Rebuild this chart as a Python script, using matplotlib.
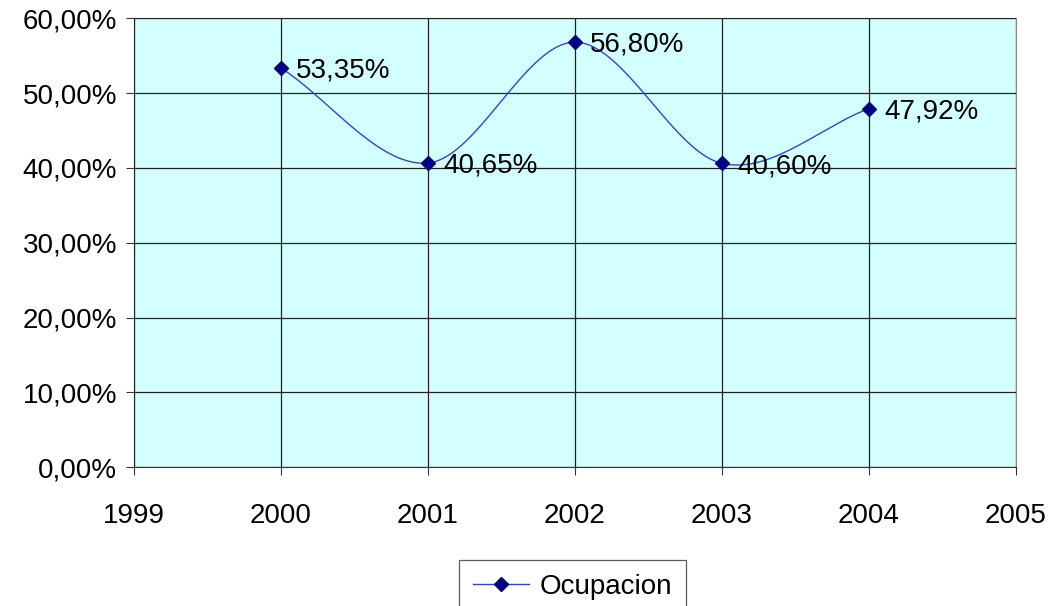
import matplotlib
matplotlib.use("Agg")
import matplotlib.pyplot as plt
import numpy as np

years = [2000, 2001, 2002, 2003, 2004]
ocupacion = [0.5335, 0.4065, 0.5680, 0.4060, 0.4792]
labels = ["53,35%", "40,65%", "56,80%", "40,60%", "47,92%"]
yticks = [0.0, 0.1, 0.2, 0.3, 0.4, 0.5, 0.6]
ytick_labels = ["0,00%", "10,00%", "20,00%", "30,00%", "40,00%", "50,00%", "60,00%"]
xticks = [1999, 2000, 2001, 2002, 2003, 2004, 2005]

plt.rcParams["font.family"] = ["Liberation Sans", "DejaVu Sans"]
FS = 20


def smooth(x, y, n=40):
    # Catmull-Rom curve through the points, like Excel's smoothed line
    x = np.asarray(x, float); y = np.asarray(y, float)
    px = np.concatenate([[2 * x[0] - x[1]], x, [2 * x[-1] - x[-2]]])
    py = np.concatenate([[2 * y[0] - y[1]], y, [2 * y[-1] - y[-2]]])
    xs, ys = [], []
    t = np.linspace(0, 1, n)
    for i in range(1, len(px) - 2):
        for p, out in ((px, xs), (py, ys)):
            p0, p1, p2, p3 = p[i - 1], p[i], p[i + 1], p[i + 2]
            out.append(0.5 * (2 * p1 + (-p0 + p2) * t
                              + (2 * p0 - 5 * p1 + 4 * p2 - p3) * t ** 2
                              + (-p0 + 3 * p1 - 3 * p2 + p3) * t ** 3))
    return np.concatenate(xs), np.concatenate(ys)


fig = plt.figure(figsize=(10.55, 6.06), dpi=100)
ax = fig.add_axes([0.127, 0.229, 0.836, 0.741])
ax.set_facecolor("#D4FFFF")

sx, sy = smooth(years, ocupacion)
ax.plot(sx, sy, color="#3344CC", lw=1, zorder=3)
ax.plot(years, ocupacion, ls="none", marker="D", ms=7, color="#000080", zorder=4)
ax.plot([], [], color="#3344CC", lw=1, marker="D", ms=7, mfc="#000080",
        mec="#000080", label="Ocupacion")

for x, y, s in zip(years, ocupacion, labels):
    ax.annotate(s, (x, y), xytext=(11, -2), textcoords="offset points",
                ha="left", va="center", fontsize=FS)

ax.set_xlim(1999, 2005)
ax.set_ylim(0, 0.6)
ax.set_xticks(xticks)
ax.set_xticklabels([str(v) for v in xticks], fontsize=FS)
ax.set_yticks(yticks)
ax.set_yticklabels(ytick_labels, fontsize=FS)
ax.tick_params(axis="x", length=6, pad=20, color="#333333")
ax.tick_params(axis="y", length=6, pad=6, color="#333333")
ax.grid(True, color="#222222", lw=0.9)
ax.set_axisbelow(False)
for side in ("left", "bottom"):
    ax.spines[side].set_color("#333333")
for side in ("top", "right"):
    ax.spines[side].set_color("#888888")

leg = fig.legend(loc="upper center", bbox_to_anchor=(0.543, 0.076), fontsize=FS,
                 frameon=True, fancybox=False, edgecolor="#333333",
                 handlelength=2.0, handletextpad=0.4, borderpad=0.5,
                 borderaxespad=0)
leg.get_frame().set_linewidth(0.9)

fig.savefig("out.png", dpi=100)
